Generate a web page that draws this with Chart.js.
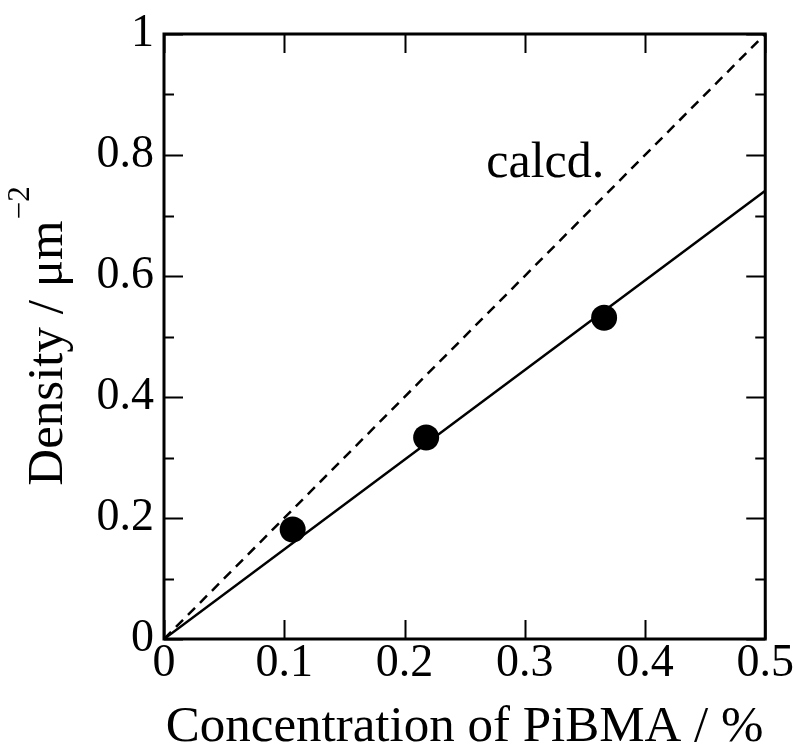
<!DOCTYPE html>
<html>
<head>
<meta charset="utf-8">
<title>Density vs concentration</title>
<script src="https://cdn.jsdelivr.net/npm/chart.js@4/dist/chart.umd.min.js"></script>
<style>
  html, body { margin: 0; padding: 0; background: #fff; }
  canvas { display: block; }
</style>
</head>
<body>
<canvas id="chart" width="796" height="746"></canvas>
<script>
// measured densities
const concentration = [0.107, 0.218, 0.366];
const density = [0.181, 0.333, 0.531];

// least-squares line through the origin
const fitX = [0, 0.5];
const fitY = [0, 0.741];

// calculated density
const calcdX = [0, 0.5];
const calcdY = [0, 1];

const xTickLabels = ['0', '0.1', '0.2', '0.3', '0.4', '0.5'];
const yTickLabels = ['0', '0.2', '0.4', '0.6', '0.8', '1'];

const serif = "'Liberation Serif', 'Times New Roman', serif";
Chart.defaults.font.family = serif;
Chart.defaults.color = '#000';

const toPoints = (xs, ys) => xs.map((x, i) => ({ x: x, y: ys[i] }));

// frame, inward ticks, titles and the "calcd." note
const framePlugin = {
  id: 'frame',
  afterDatasetsDraw(chart) {
    const { ctx, chartArea: a, scales } = chart;
    const xs = scales.x, ys = scales.y;
    ctx.save();
    ctx.strokeStyle = '#000';
    ctx.lineWidth = 2;
    ctx.beginPath();
    xs.ticks.forEach(t => {
      const px = Math.round(xs.getPixelForValue(t.value)) + 0.5;
      const len = t.label !== '' ? 19 : 10;
      ctx.moveTo(px, a.bottom); ctx.lineTo(px, a.bottom - len);
      ctx.moveTo(px, a.top); ctx.lineTo(px, a.top + len);
    });
    ys.ticks.forEach(t => {
      const py = Math.round(ys.getPixelForValue(t.value)) + 0.5;
      const len = t.label !== '' ? 19 : 10;
      ctx.moveTo(a.left, py); ctx.lineTo(a.left + len, py);
      ctx.moveTo(a.right, py); ctx.lineTo(a.right - len, py);
    });
    ctx.stroke();

    ctx.lineWidth = 3;
    ctx.strokeRect(a.left, a.top, a.right - a.left, a.bottom - a.top);

    // axis titles
    ctx.fillStyle = '#000';
    ctx.font = '51px ' + serif;
    ctx.textAlign = 'center';
    ctx.textBaseline = 'alphabetic';
    ctx.fillText('Concentration of PiBMA / %', (a.left + a.right) / 2, 741);

    ctx.save();
    ctx.translate(62, (a.top + a.bottom) / 2);
    ctx.rotate(-Math.PI / 2);
    const main = 'Density / \u03bcm';
    const sup = '\u22122';
    ctx.font = '51px ' + serif;
    const w1 = ctx.measureText(main).width;
    ctx.font = '31px ' + serif;
    const w2 = ctx.measureText(sup).width;
    const start = -(w1 + w2) / 2;
    ctx.textAlign = 'left';
    ctx.font = '51px ' + serif;
    ctx.fillText(main, start, 0);
    ctx.font = '31px ' + serif;
    ctx.fillText(sup, start + w1 + 1, -33);
    ctx.restore();

    ctx.font = '50px ' + serif;
    ctx.textAlign = 'left';
    ctx.fillText('calcd.', xs.getPixelForValue(0.268), ys.getPixelForValue(0.764));
    ctx.restore();
  }
};

new Chart(document.getElementById('chart'), {
  type: 'scatter',
  data: {
    datasets: [
      {
        label: 'calcd.',
        data: toPoints(calcdX, calcdY),
        showLine: true,
        borderColor: '#000',
        borderWidth: 2.5,
        borderDash: [10, 7],
        pointRadius: 0
      },
      {
        label: 'fit',
        data: toPoints(fitX, fitY),
        showLine: true,
        borderColor: '#000',
        borderWidth: 2.5,
        pointRadius: 0
      },
      {
        label: 'measured',
        data: toPoints(concentration, density),
        backgroundColor: '#000',
        borderWidth: 0,
        pointRadius: 13,
        pointHoverRadius: 13
      }
    ]
  },
  options: {
    responsive: false,
    animation: false,
    layout: { padding: { top: 34, right: 28, left: 0, bottom: 0 } },
    plugins: {
      legend: { display: false },
      tooltip: { enabled: false }
    },
    scales: {
      x: {
        type: 'linear',
        min: 0,
        max: 0.5,
        grid: { display: false, drawTicks: false },
        border: { display: false },
        afterFit: s => { s.height = 107; },
        ticks: {
          stepSize: 0.05,
          padding: 2,
          font: { size: 46, lineHeight: 1 },
          maxRotation: 0,
          callback: (v, i) => (i % 2 === 0 ? xTickLabels[i / 2] : '')
        }
      },
      y: {
        type: 'linear',
        min: 0,
        max: 1,
        grid: { display: false, drawTicks: false },
        border: { display: false },
        afterFit: s => { s.width = 164; },
        ticks: {
          stepSize: 0.1,
          padding: 10,
          font: { size: 46, lineHeight: 1 },
          callback: (v, i) => (i % 2 === 0 ? yTickLabels[i / 2] : '')
        }
      }
    }
  },
  plugins: [framePlugin]
});
</script>
</body>
</html>
